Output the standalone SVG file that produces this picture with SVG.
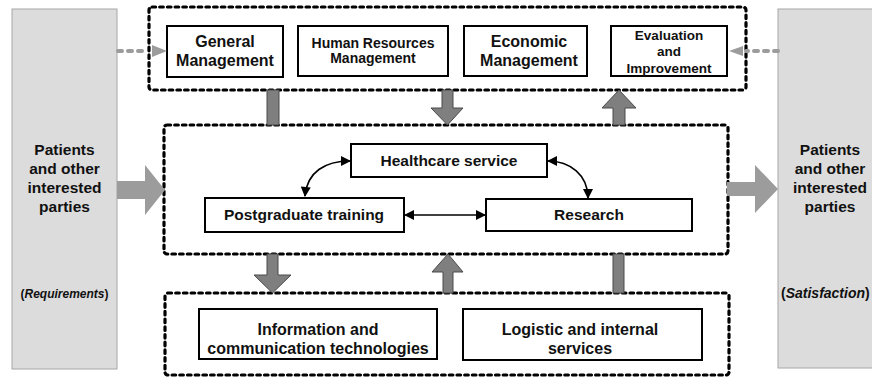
<svg xmlns="http://www.w3.org/2000/svg" width="872" height="377" viewBox="0 0 872 377">
  <style>
    text { font-family: "Liberation Sans", Arial, sans-serif; font-weight: bold; fill: #111; text-anchor: middle; }
    .side { fill: #dcdcdc; stroke: #a6a6a6; stroke-width: 1; }
    .group { fill: none; stroke: #000; stroke-width: 3.2; stroke-dasharray: 3.6 4.1; stroke-linecap: round; }
    .box { fill: #fff; stroke: #000; stroke-width: 2; }
    .bar { fill: #7f7f7f; stroke: #4a4a4a; stroke-width: 1; }
    .flow { fill: #9c9c9c; }
    .dots { fill: none; stroke: #9c9c9c; stroke-width: 4; stroke-dasharray: 4 6; stroke-linecap: round; }
    .link { fill: none; stroke: #000; stroke-width: 1.6; }
  </style>
  <defs>
    <marker id="head" viewBox="0 0 10 10" refX="9" refY="5" markerWidth="11" markerHeight="10" markerUnits="userSpaceOnUse" orient="auto-start-reverse">
      <path d="M0,0 L10,5 L0,10 z" fill="#000"/>
    </marker>
  </defs>

  <!-- stakeholders, input side -->
  <g id="patients-in">
    <rect class="side" x="12" y="9" width="105" height="360"/>
    <text x="64.5" y="155" font-size="15.5">Patients</text>
    <text x="64.5" y="174" font-size="15.5">and other</text>
    <text x="64.5" y="193" font-size="15.5">interested</text>
    <text x="64.5" y="212" font-size="15.5">parties</text>
    <text x="64.5" y="298" font-size="12">(<tspan font-style="italic">Requirements</tspan>)</text>
  </g>

  <!-- stakeholders, output side -->
  <g id="patients-out">
    <rect class="side" x="778" y="9" width="110" height="359"/>
    <text x="830" y="155" font-size="15.5">Patients</text>
    <text x="830" y="174" font-size="15.5">and other</text>
    <text x="830" y="193" font-size="15.5">interested</text>
    <text x="830" y="212" font-size="15.5">parties</text>
    <text x="781" y="298" font-size="14" style="text-anchor:start">(<tspan font-style="italic">Satisfaction</tspan>)</text>
  </g>

  <!-- management processes -->
  <g id="management">
    <rect class="group" x="149" y="7" width="597" height="83" rx="3"/>
  </g>
  <g id="general-management">
    <rect class="box" x="167" y="26" width="116" height="51"/>
    <text x="225" y="47" font-size="16">General</text>
    <text x="225" y="66" font-size="16">Management</text>
  </g>
  <g id="hr-management">
    <rect class="box" x="298" y="26" width="150" height="50"/>
    <text x="373" y="48" font-size="14">Human Resources</text>
    <text x="373" y="63" font-size="14">Management</text>
  </g>
  <g id="economic-management">
    <rect class="box" x="464" y="26" width="123" height="50"/>
    <text x="529" y="47" font-size="16">Economic</text>
    <text x="529" y="66" font-size="16">Management</text>
  </g>
  <g id="evaluation">
    <rect class="box" x="611" y="26" width="116" height="50"/>
    <text x="669" y="39.5" font-size="13.5">Evaluation</text>
    <text x="669" y="56" font-size="13.5">and</text>
    <text x="669" y="72.5" font-size="13.5">Improvement</text>
  </g>

  <!-- key processes -->
  <g id="key-processes">
    <rect class="group" x="164" y="125" width="564" height="129" rx="3"/>
  </g>
  <g id="healthcare">
    <rect class="box" x="351" y="144" width="196" height="33"/>
    <text x="449" y="166" font-size="15.5">Healthcare service</text>
  </g>
  <g id="training">
    <rect class="box" x="205" y="198" width="199" height="34"/>
    <text x="304" y="220" font-size="15.5">Postgraduate training</text>
  </g>
  <g id="research">
    <rect class="box" x="486" y="199" width="206" height="32"/>
    <text x="589" y="220" font-size="15.5">Research</text>
  </g>

  <!-- support processes -->
  <g id="support">
    <rect class="group" x="165" y="293" width="564" height="82" rx="3"/>
  </g>
  <g id="ict">
    <rect class="box" x="199" y="309" width="238" height="50"/>
    <text x="318" y="335" font-size="16">Information and</text>
    <text x="318" y="354" font-size="16">communication technologies</text>
  </g>
  <g id="logistics">
    <rect class="box" x="463" y="309" width="239" height="51"/>
    <text x="580" y="335" font-size="16">Logistic and internal</text>
    <text x="580" y="354" font-size="16">services</text>
  </g>

  <!-- connectors -->
  <g id="connectors">
    <!-- requirements / satisfaction flows -->
    <path class="flow" d="M117,181 H145 V165 L165,190 L145,215 V199 H117 z"/>
    <path class="flow" d="M727,182 H755 V165 L778,189 L755,213 V196 H727 z"/>
    <!-- dotted inputs to management -->
    <line class="dots" x1="118" y1="51" x2="148" y2="51"/>
    <path d="M152,45 L167,51 L152,57 z" fill="#9c9c9c"/>
    <line class="dots" x1="778" y1="51" x2="746" y2="51"/>
    <path d="M743,46 L729,51 L743,56 z" fill="#9c9c9c"/>
    <!-- management <-> key processes -->
    <rect class="bar" x="267" y="90" width="12" height="35"/>
    <path class="bar" d="M442,90 H453 V108 H463 L447.5,125 L431,108 H442 z"/>
    <path class="bar" d="M613,125 V108 H602 L619,90 L636,108 H625 V125 z"/>
    <!-- key processes <-> support -->
    <path class="bar" d="M267,254 H278 V275 H291 L272.5,293 L254,275 H267 z"/>
    <path class="bar" d="M443,293 V272 H432 L448,254 L463,272 H453 V293 z"/>
    <rect class="bar" x="613" y="254" width="11" height="39"/>
    <!-- links between key processes -->
    <path class="link" d="M305,196 C307,172 325,161 350,161" marker-start="url(#head)" marker-end="url(#head)"/>
    <path class="link" d="M548,161 C570,161 588,175 588,198" marker-start="url(#head)" marker-end="url(#head)"/>
    <path class="link" d="M405,215 L485,215" marker-start="url(#head)" marker-end="url(#head)"/>
  </g>
</svg>
